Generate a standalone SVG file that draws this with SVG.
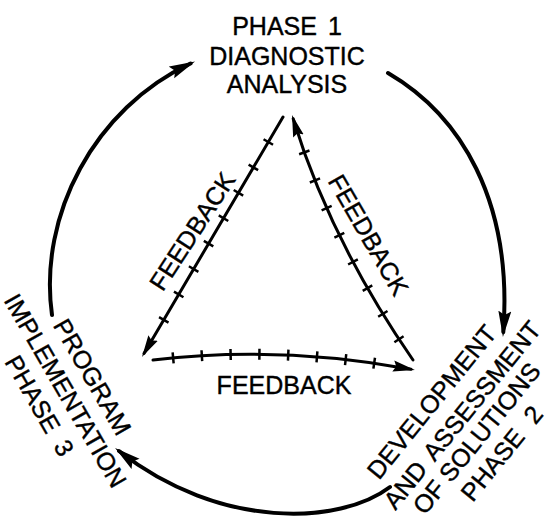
<svg xmlns="http://www.w3.org/2000/svg" width="550" height="518" viewBox="0 0 550 518">
<style>
  text { font-family: "Liberation Sans", Arial, Helvetica, sans-serif; font-size: 25px; fill: #000; stroke: #000; stroke-width: 0.4; text-anchor: middle; }
  .cycle { fill: none; stroke: #000; stroke-width: 4; stroke-linecap: round; marker-end: url(#big); }
  .fb { fill: none; stroke: #000; stroke-width: 3; stroke-linecap: round; marker-end: url(#small); }
  .ticks { fill: none; stroke: #000; stroke-width: 11; stroke-linecap: butt; }
</style>
<defs>
  <marker id="big" markerUnits="userSpaceOnUse" viewBox="0 -7 26 14" refX="21" refY="0" markerWidth="26" markerHeight="14" orient="auto">
    <path d="M0,-6.5 L26,0 L0,6.5 L4,0 z" fill="#000"/>
  </marker>
  <marker id="small" markerUnits="userSpaceOnUse" viewBox="0 -6 22 12" refX="18" refY="0" markerWidth="22" markerHeight="12" orient="auto">
    <path d="M0,-5.5 L22,0 L0,5.5 L3,0 z" fill="#000"/>
  </marker>
</defs>

<g id="node-phase1">
  <text x="287" y="35" word-spacing="4">PHASE 1</text>
  <text x="287" y="65">DIAGNOSTIC</text>
  <text x="287" y="93">ANALYSIS</text>
</g>

<g id="node-phase2" transform="translate(462.5,414) rotate(-51)">
  <text x="-10" y="-23">DEVELOPMENT</text>
  <text x="-1" y="9" word-spacing="4">AND ASSESSMENT</text>
  <text x="-10" y="35" font-size="22">OF SOLUTIONS</text>
  <text x="-6" y="64" font-size="23" word-spacing="8">PHASE 2</text>
</g>

<g id="node-phase3" transform="translate(65.75,390.5) rotate(60)">
  <text x="1.6" y="-21.2">PROGRAM</text>
  <text x="0" y="9">IMPLEMENTATION</text>
  <text x="0" y="39" font-size="24" word-spacing="6">PHASE 3</text>
</g>

<g id="connectors">
  <!-- outer cycle -->
  <path class="cycle" d="M388,73 C460,115 513,200 503.3,332"/>
  <path class="cycle" d="M390,487 C340,525 220,530 119,451"/>
  <path class="cycle" d="M52,315 C38,215 95,108 190.5,63.5"/>

  <!-- feedback triangle -->
  <path class="fb" d="M283,117 L144,353.5"/>
  <path class="ticks" d="M283,117 L144,353.5" stroke-dasharray="0 27.75 2.5 26.97 2.5 26.97 2.5 26.97 2.5 26.97 2.5 26.97 2.5 26.97 2.5 26.97 2.5 1000"/>

  <path class="fb" d="M413,360 Q330,240 293.2,118.8"/>
  <path class="ticks" d="M413,360 Q330,240 293.2,118.8" stroke-dasharray="0 23.75 2.5 27.5 2.5 27.5 2.5 27.5 2.5 27.5 2.5 27.5 2.5 27.5 2.5 27.5 2.5 1000"/>

  <path class="fb" d="M153,360 Q280,345 411,369.3"/>
  <path class="ticks" d="M153,360 Q280,345 411,369.3" stroke-dasharray="0 19 2.5 26.3 2.5 26.3 2.5 26.3 2.5 26.3 2.5 26.3 2.5 26.3 2.5 26.3 2.5 1000"/>

  <!-- feedback labels -->
  <text transform="translate(192,231) rotate(-57)" y="9">FEEDBACK</text>
  <text transform="translate(368.75,234.75) rotate(60)" y="9">FEEDBACK</text>
  <text x="284" y="394">FEEDBACK</text>
</g>
</svg>
